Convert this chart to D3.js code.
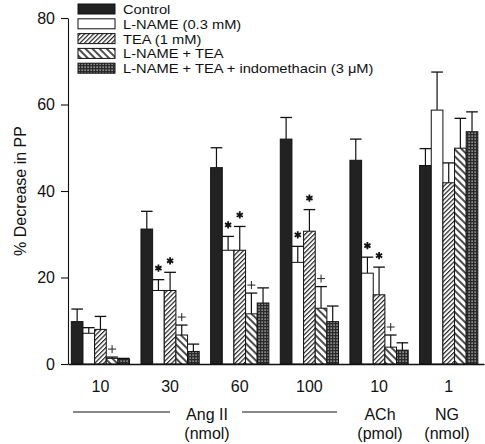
<!DOCTYPE html>
<html><head><meta charset="utf-8">
<script src="https://cdn.jsdelivr.net/npm/d3@7"></script>
<style>body{margin:0;background:#fff}svg{display:block}text{font-family:"Liberation Sans",Arial,sans-serif;fill:#111}</style>
</head><body><svg id="c" width="485" height="444"></svg>
<script>
const groups = ["10","30","60","100","10 ","1"];
const tickLabels = ["10","30","60","100","10","1"];
const series = ["Control","L-NAME (0.3 mM)","TEA (1 mM)","L-NAME + TEA","L-NAME + TEA + indomethacin (3 μM)"];
const control   = [9.8, 31.2, 45.4, 52.0, 47.1, 45.9];
const controlErr= [2.9, 4.1, 4.6, 5.0, 4.9, 3.9];
const lname     = [7.1, 17.0, 26.3, 23.5, 21.0, 58.7];
const lnameErr  = [1.3, 2.5, 3.2, 3.7, 3.7, 8.8];
const tea       = [8.0, 17.0, 26.3, 30.7, 16.0, 41.9];
const teaErr    = [3.0, 4.2, 5.5, 5.0, 6.4, 4.6];
const lnt       = [1.3, 6.7, 11.6, 12.9, 3.9, 49.9];
const lntErr    = [0.3, 2.3, 4.8, 5.0, 2.8, 6.9];
const indo      = [1.1, 2.9, 14.1, 9.8, 3.2, 53.7];
const indoErr   = [0.2, 1.7, 3.5, 3.6, 1.7, 4.6];
const yTicks = [0,20,40,60,80];
// significance marks: [groupIndex, seriesIndex, symbol]
const marks = [[1,1,"*"],[1,2,"*"],[2,1,"*"],[2,2,"*"],[3,1,"*"],[3,2,"*"],[4,1,"*"],[4,2,"*"],
               [0,3,"+"],[1,3,"+"],[2,3,"+"],[3,3,"+"],[4,3,"+"]];

const values = [control, lname, tea, lnt, indo];
const errs = [controlErr, lnameErr, teaErr, lntErr, indoErr];

const svg = d3.select("#c");
const defs = svg.append("defs");
// patterns
const pTea = defs.append("pattern").attr("id","pTea").attr("patternUnits","userSpaceOnUse")
  .attr("width",3.2).attr("height",3.2).attr("patternTransform","rotate(45)");
pTea.append("rect").attr("width",3.2).attr("height",3.2).attr("fill","#fff");
pTea.append("line").attr("x1",0.6).attr("y1",0).attr("x2",0.6).attr("y2",3.2).attr("stroke","#111").attr("stroke-width",1.1);
const pLnt = defs.append("pattern").attr("id","pLnt").attr("patternUnits","userSpaceOnUse")
  .attr("width",5).attr("height",5).attr("patternTransform","rotate(-45)");
pLnt.append("rect").attr("width",5).attr("height",5).attr("fill","#fff");
pLnt.append("line").attr("x1",1).attr("y1",0).attr("x2",1).attr("y2",5).attr("stroke","#111").attr("stroke-width",1.5);
const pInd = defs.append("pattern").attr("id","pInd").attr("patternUnits","userSpaceOnUse")
  .attr("width",3).attr("height",3);
pInd.append("rect").attr("width",3).attr("height",3).attr("fill","#2a2a2a");
pInd.append("rect").attr("x",0.5).attr("y",0.5).attr("width",1.2).attr("height",1.2).attr("fill","#e8e8e8");
const fills = ["#222","#fff","url(#pTea)","url(#pLnt)","url(#pInd)"];

const y = d3.scaleLinear().domain([0,80]).range([364,18]);
const x0 = d3.scaleBand().domain(groups).range([68,484]).paddingInner(0.164).paddingOuter(0.068).align(0.35);
const x1 = d3.scaleBand().domain(series).range([0,x0.bandwidth()]);

// bars
const g = svg.append("g");
groups.forEach((gr,gi)=>{
  series.forEach((s,si)=>{
    const v = values[si][gi], e = errs[si][gi];
    const bx = x0(gr)+x1(s), bw = x1.bandwidth();
    g.append("line").attr("x1",bx+bw/2).attr("x2",bx+bw/2).attr("y1",y(v)).attr("y2",y(v+e))
      .attr("stroke","#111").attr("stroke-width",1.2);
    g.append("line").attr("x1",bx).attr("x2",bx+bw).attr("y1",y(v+e)).attr("y2",y(v+e))
      .attr("stroke","#111").attr("stroke-width",1.3);
    g.append("rect").attr("x",bx).attr("y",y(v)).attr("width",bw).attr("height",y(0)-y(v))
      .attr("fill",fills[si]).attr("stroke","#111").attr("stroke-width",1);
  });
});

// significance marks
marks.forEach(([gi,si,sym])=>{
  const v = values[si][gi]+errs[si][gi];
  const cx = x0(groups[gi])+x1(series[si])+x1.bandwidth()/2;
  if(sym==="*"){
    const cy = y(v)-11.5, r=3.6;
    let d="";
    for(let k=0;k<3;k++){const a=Math.PI/2+k*Math.PI/3;d+=`M${cx+r*Math.cos(a)},${cy-r*Math.sin(a)}L${cx-r*Math.cos(a)},${cy+r*Math.sin(a)}`;}
    svg.append("path").attr("d",d).attr("stroke","#111").attr("stroke-width",1.8).attr("fill","none");
  } else {
    const cy = y(v)-8, r=4;
    svg.append("path").attr("d",`M${cx-r},${cy}H${cx+r}M${cx},${cy-r}V${cy+r}`)
      .attr("stroke","#222").attr("stroke-width",1).attr("fill","none");
  }
});

// axes
const yAxis = d3.axisLeft(y).tickValues(yTicks).tickSize(7).tickPadding(6).tickSizeOuter(0);
const ya = svg.append("g").attr("transform","translate(68,0)").call(yAxis);
ya.selectAll("text").style("font-size","16px").attr("fill","#111");
ya.selectAll("line,path").attr("stroke","#111").attr("stroke-width",1.1);
const xAxis = d3.axisBottom(x0).tickSize(0).tickPadding(17).tickSizeOuter(0).tickFormat((d,i)=>tickLabels[i]);
const xa = svg.append("g").attr("transform","translate(0,364)").call(xAxis);
xa.selectAll("text").style("font-size","16px").attr("fill","#111");
xa.select("path").attr("stroke","#111").attr("stroke-width",1.3);

svg.append("text").attr("transform","translate(26,191) rotate(-90)").attr("text-anchor","middle")
  .style("font-size","16px").text("% Decrease in PP");

// group labels
const gl = [["Ang II","(nmol)",207],["ACh","(pmol)",380],["NG","(nmol)",447]];
gl.forEach(([a,b,cx])=>{
  svg.append("text").attr("x",cx).attr("y",420).attr("text-anchor","middle").style("font-size","16px").text(a);
  svg.append("text").attr("x",cx).attr("y",439).attr("text-anchor","middle").style("font-size","16px").text(b);
});
svg.append("line").attr("x1",73).attr("x2",170).attr("y1",412).attr("y2",412).attr("stroke","#111");
svg.append("line").attr("x1",242).attr("x2",337).attr("y1",412).attr("y2",412).attr("stroke","#111");

// legend
const lg = svg.append("g");
series.forEach((s,i)=>{
  const ty = 4 + i*14.8;
  lg.append("rect").attr("x",78).attr("y",ty).attr("width",37).attr("height",10)
    .attr("fill",fills[i]).attr("stroke","#111").attr("stroke-width",1);
  lg.append("text").attr("transform",`translate(123,${ty+10}) scale(1.13,1)`)
    .style("font-size","13px").text(s);
});
</script></body></html>
